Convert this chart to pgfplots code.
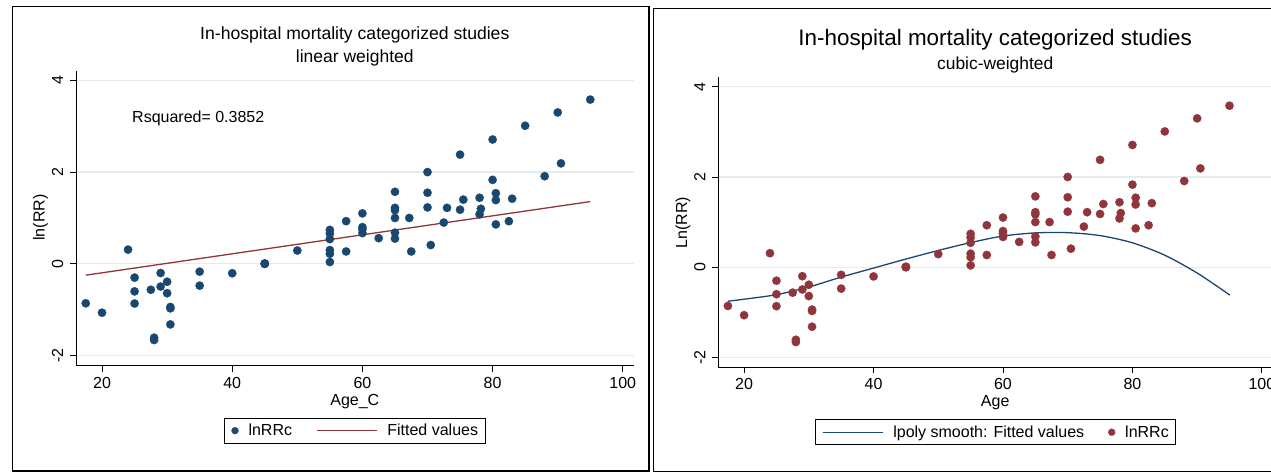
\documentclass[border=0pt]{standalone}
\usepackage{pgfplots}
\pgfplotsset{compat=1.18}
\usepackage{pgfplotstable}
\usepackage{fontspec}
\setmainfont{Liberation Sans}
\newcommand\fs[1]{\fontsize{#1}{#1}\selectfont}
\definecolor{stnavy}{RGB}{26,71,111}
\definecolor{stmaroon}{RGB}{144,53,59}
\definecolor{stgrid}{RGB}{228,236,238}

\pgfplotstableread{
age lnrr
17.5 -0.86
20 -1.065
24 0.31
25 -0.30
25 -0.60
25 -0.865
27.5 -0.565
28 -1.61
28 -1.66
29 -0.20
29 -0.495
30 -0.39
30 -0.64
30.5 -0.94
30.5 -0.97
30.5 -1.32
35 -0.17
35 -0.475
40 -0.205
45 0
45 0
45 0.01
50 0.29
55 0.74
55 0.66
55 0.54
55 0.30
55 0.22
55 0.04
57.5 0.93
57.5 0.27
60 1.10
60 0.80
60 0.75
60 0.67
62.5 0.56
65 1.57
65 1.22
65 1.17
65 1.00
65 0.68
65 0.55
67.2 1.00
67.5 0.27
70 2.00
70 1.55
70 1.23
70.5 0.41
72.5 0.90
73 1.22
75 2.38
75 1.18
75.5 1.40
78 1.44
78.2 1.20
78 1.08
80 2.71
80 1.83
80.5 1.54
80.5 1.39
80.5 0.86
82.5 0.93
83 1.42
85 3.01
88 1.91
90 3.30
90.5 2.19
95 3.58
}\pts

\pgfplotstableread{
age fit
17.5 -0.247
95 1.357
}\linfit

\pgfplotstableread{
age fit
17.5 -0.755
20 -0.71
25 -0.61
30 -0.44
35 -0.22
40 -0.02
45 0.18
50 0.37
55 0.545
60 0.69
65 0.76
70 0.765
75 0.70
80 0.54
85 0.265
90 -0.13
95.07 -0.62
}\cubfit

\pgfplotsset{
 stata/.style={
  scale only axis,
  xmin=16, xmax=101.66, ymin=-2.22, ymax=4.21,
  axis lines=left,
  axis line style={-, line width=0.8pt, black},
  xtick={20,40,60,80,100}, xticklabels={20,40,60,80,100},
  ytick={-2,0,2,4}, yticklabels={-2,0,2,4},
  tick align=outside, major tick length=6pt,
  tick style={line width=0.8pt, black},
  ymajorgrids, major grid style={stgrid, line width=1.3pt},
  xticklabel style={font=\fs{16}, inner sep=0pt, anchor=north},
  yticklabel style={font=\fs{16}, inner sep=0pt, rotate=90, anchor=south},
  xticklabel shift=5pt, yticklabel shift=6.6pt,
  legend columns=2,
  legend style={draw=black, line width=0.8pt, font=\fs{16},
    inner xsep=7pt, inner ysep=6pt, nodes={inner sep=0pt},
    column sep=10pt,
    /tikz/every even column/.append style={column sep=24pt},
    anchor=north},
 },
 markleg/.style={legend image code/.code={\draw[##1,mark size=3.5pt] plot coordinates {(0pt,0pt)};}},
 lineleg/.style={legend image code/.code={\draw[##1] (0pt,0pt) -- (60pt,0pt);}},
}

\begin{document}
\begin{tikzpicture}
\path[use as bounding box] (0pt,0pt) rectangle (1271pt,473pt);
% left panel
\draw[line width=1.5pt] (12.3pt,466.5pt) rectangle (649pt,2pt);
\begin{axis}[stata,
  at={(76pt,107.3pt)}, anchor=south west,
  width=557.6pt, height=295pt,
  legend style={at={(axis description cs:0.5,-0.1763)}},
]
\addplot[only marks, mark=*, mark size=4.2pt, color=stnavy, mark options={fill=stnavy, draw=stnavy, line width=0.2pt}, markleg] table[x=age,y=lnrr] {\pts};
\addlegendentry{lnRRc}
\addplot[stmaroon, line width=1.3pt, lineleg] table[x=age,y=fit] {\linfit};
\addlegendentry{Fitted values}
\end{axis}
\node[anchor=base, inner sep=0pt, font=\fs{17.6}] at (354.8pt,433pt) {In-hospital mortality categorized studies};
\node[anchor=base, inner sep=0pt, font=\fs{17.5}] at (354.8pt,410.3pt) {linear weighted};
\node[anchor=base, inner sep=0pt, font=\fs{16}] at (354.8pt,67.5pt) {Age\_C};
\node[anchor=base, inner sep=0pt, rotate=90, font=\fs{16}] at (44.5pt,255.5pt) {ln(RR)};
\node[anchor=base west, inner sep=0pt, font=\fs{16}] at (132pt,350.5pt) {Rsquared= 0.3852};
% right panel
\draw[line width=1.5pt] (653.5pt,464.7pt) rectangle (1290pt,1.5pt);
\begin{axis}[stata,
  at={(718.2pt,105.7pt)}, anchor=south west,
  width=554.4pt, height=290pt,
  legend style={at={(axis description cs:0.5,-0.1793)}},
]
\addplot[stnavy, line width=1.3pt, smooth, lineleg] table[x=age,y=fit] {\cubfit};
\addlegendentry{lpoly smooth: Fitted values}
\addplot[only marks, mark=*, mark size=4.2pt, color=stmaroon, mark options={fill=stmaroon, draw=stmaroon, line width=0.2pt}, markleg] table[x=age,y=lnrr] {\pts};
\addlegendentry{lnRRc}
\end{axis}
\node[anchor=base, inner sep=0pt, font=\fs{22.4}] at (995.2pt,427pt) {In-hospital mortality categorized studies};
\node[anchor=base, inner sep=0pt, font=\fs{17.4}] at (995.2pt,403pt) {cubic-weighted};
\node[anchor=base, inner sep=0pt, font=\fs{16}] at (995.2pt,66pt) {Age};
\node[anchor=base, inner sep=0pt, rotate=90, font=\fs{16}] at (687pt,250.5pt) {Ln(RR)};
\end{tikzpicture}
\end{document}
